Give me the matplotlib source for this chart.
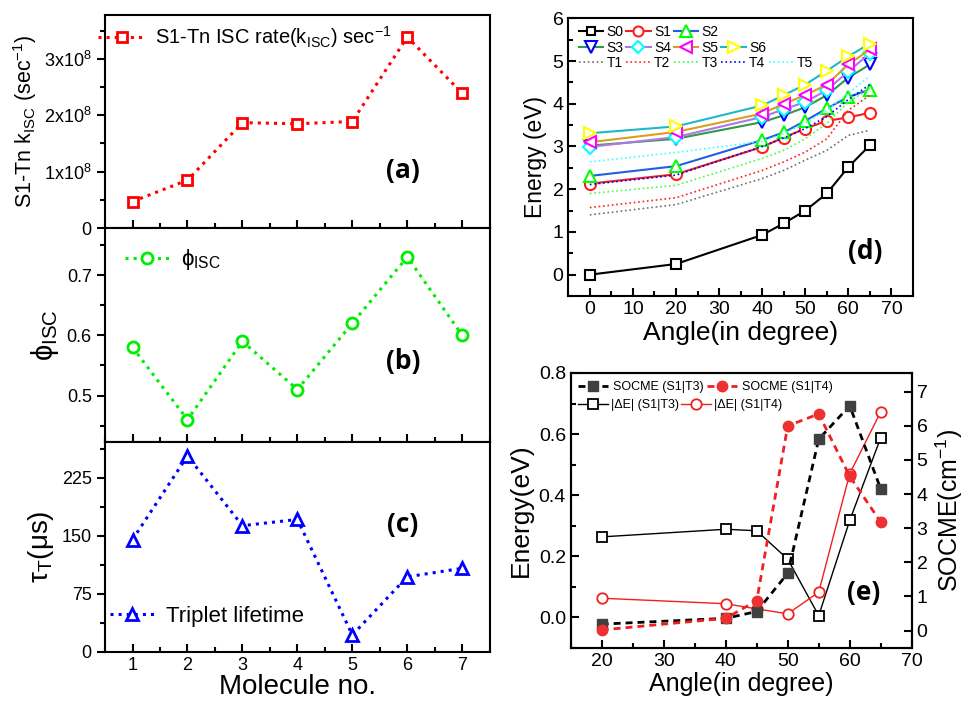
import matplotlib.pyplot as plt
from matplotlib.ticker import MultipleLocator, FuncFormatter
from matplotlib.lines import Line2D

plt.rcParams['font.family'] = ['Liberation Sans', 'DejaVu Sans']
plt.rcParams['mathtext.default'] = 'regular'
plt.rcParams['axes.linewidth'] = 1.5

# left column data (molecules 1-7)
molecule = [1, 2, 3, 4, 5, 6, 7]
k_isc = [0.47e8, 0.85e8, 1.87e8, 1.85e8, 1.89e8, 3.39e8, 2.39e8]
phi_isc = [0.58, 0.46, 0.59, 0.51, 0.62, 0.73, 0.60]
tau_t = [145, 253, 163, 171, 22, 97, 108]

# panel (d): energies vs twist angle
angle_d = [0, 20, 40, 45, 50, 55, 60, 65]
S0 = [0.0, 0.25, 0.93, 1.2, 1.5, 1.9, 2.52, 3.03]
S1 = [2.13, 2.35, 2.99, 3.21, 3.42, 3.6, 3.68, 3.79]
S2 = [2.31, 2.54, 3.15, 3.33, 3.6, 3.89, 4.16, 4.33]
S3 = [3.02, 3.18, 3.57, 3.73, 3.92, 4.2, 4.61, 4.92]
S4 = [2.99, 3.22, 3.69, 3.87, 4.04, 4.32, 4.76, 5.18]
S5 = [3.1, 3.34, 3.77, 4.0, 4.2, 4.45, 4.92, 5.27]
S6 = [3.31, 3.47, 3.96, 4.2, 4.45, 4.77, 5.11, 5.41]
T1 = [1.40, 1.64, 2.25, 2.44, 2.68, 2.91, 3.26, 3.38]
T2 = [1.57, 1.80, 2.44, 2.64, 2.87, 3.18, 3.85, 4.2]
T3 = [1.90, 2.09, 2.72, 2.91, 3.18, 3.54, 4.04, 4.36]
T4 = [2.11, 2.33, 3.0, 3.2, 3.42, 3.7, 4.1, 4.45]
T5 = [2.64, 2.86, 3.12, 3.3, 3.55, 3.85, 4.25, 4.65]

# panel (e)
angle_e = [20, 40, 45, 50, 55, 60, 65]
socme_t3 = [0.19, 0.36, 0.56, 1.68, 5.61, 6.59, 4.15]
socme_t4 = [0.02, 0.36, 0.88, 6.0, 6.35, 4.52, 3.18]
de_t3 = [0.263, 0.288, 0.283, 0.19, 0.005, 0.317, 0.588]
de_t4 = [0.062, 0.044, 0.027, 0.011, 0.082, 0.47, 0.673]

fig = plt.figure(figsize=(9.69, 7.04), dpi=100)

ax_a = fig.add_axes([0.1084, 0.6761, 0.397, 0.3026])
ax_b = fig.add_axes([0.1084, 0.3722, 0.397, 0.3039])
ax_c = fig.add_axes([0.1084, 0.0739, 0.397, 0.2983])

for ax in (ax_a, ax_b, ax_c):
    ax.set_xlim(0.5, 7.5)
    ax.xaxis.set_major_locator(MultipleLocator(1))
    ax.xaxis.set_minor_locator(MultipleLocator(0.5))
    ax.tick_params(axis='x', which='both', direction='in', width=1.5)
    ax.tick_params(axis='y', which='both', direction='out', width=1.5)
    ax.tick_params(which='major', length=6, labelsize=13)
    ax.tick_params(which='minor', length=3.5)
    if ax is not ax_c:
        ax.tick_params(axis='x', labelbottom=False)

# (a)
ax_a.plot(molecule, k_isc, ':', color='#ff0000', lw=2.2, marker='s', ms=7.5,
          mfc='white', mec='#ff0000', mew=2, label=r'S1-Tn ISC rate(k$_{ISC}$) sec$^{-1}$')
ax_a.set_ylim(0, 3.78e8)
ax_a.yaxis.set_major_locator(MultipleLocator(1e8))
ax_a.yaxis.set_minor_locator(MultipleLocator(0.5e8))
ax_a.yaxis.set_major_formatter(FuncFormatter(
    lambda v, p: '0' if v == 0 else r'%dx10$^{8}$' % round(v / 1e8)))
ax_a.set_ylabel(r'S1-Tn k$_{ISC}$ (sec$^{-1}$)', fontsize=15.5)
ax_a.legend(loc='upper left', bbox_to_anchor=(-0.018, 0.955), frameon=False,
            fontsize=14.5, handlelength=2.4, handletextpad=0.4, borderaxespad=0, borderpad=0)
ax_a.text(0.774, 0.27, '(a)', transform=ax_a.transAxes, fontsize=19,
          fontweight='bold', family='Open Sans', ha='center', va='center')

# (b)
ax_b.plot(molecule, phi_isc, ':', color='#00ee00', lw=2.2, marker='o', ms=8,
          mfc='white', mec='#00ee00', mew=2, label=r'ϕ$_{ISC}$')
ax_b.set_ylim(0.423, 0.778)
ax_b.yaxis.set_major_locator(MultipleLocator(0.1))
ax_b.yaxis.set_minor_locator(MultipleLocator(0.05))
ax_b.set_ylabel(r'ϕ$_{ISC}$', fontsize=21)
ax_b.legend(loc='upper left', bbox_to_anchor=(0.052, 0.91), frameon=False,
            fontsize=16, handlelength=2.0, handletextpad=0.5, borderaxespad=0, borderpad=0)
ax_b.text(0.774, 0.375, '(b)', transform=ax_b.transAxes, fontsize=19,
          fontweight='bold', family='Open Sans', ha='center', va='center')

# (c)
ax_c.plot(molecule, tau_t, ':', color='#0000ff', lw=2.2, marker='^', ms=9,
          mfc='white', mec='#0000ff', mew=2, label='Triplet lifetime')
ax_c.set_ylim(0, 271)
ax_c.yaxis.set_major_locator(MultipleLocator(75))
ax_c.yaxis.set_minor_locator(MultipleLocator(37.5))
ax_c.set_ylabel(r'τ$_{T}$(μs)', fontsize=20)
ax_c.set_xlabel('Molecule no.', fontsize=20, labelpad=0)
ax_c.legend(loc='lower left', bbox_to_anchor=(0.013, 0.12), frameon=False,
            fontsize=16, handlelength=2.0, handletextpad=0.5, borderaxespad=0, borderpad=0)
ax_c.text(0.774, 0.605, '(c)', transform=ax_c.transAxes, fontsize=19,
          fontweight='bold', family='Open Sans', ha='center', va='center')

# (d)
ax_d = fig.add_axes([0.5865, 0.5795, 0.3557, 0.3945])
s_series = [S0, S1, S2, S3, S4, S5, S6]
s_names = ['S0', 'S1', 'S2', 'S3', 'S4', 'S5', 'S6']
s_line = ['black', '#ee2020', '#1f5fe0', '#2e9a4a', '#b078e0', '#d8a020', '#20b8c8']
s_mark = ['black', '#ff2020', '#00ff00', '#0000ff', '#00ffff', '#ff00ff', '#ffff00']
s_shape = ['s', 'o', '^', 'v', 'D', '<', '>']
s_size = [7, 8, 9, 9, 7, 9, 9]
t_series = [T1, T2, T3, T4, T5]
t_names = ['T1', 'T2', 'T3', 'T4', 'T5']
t_col = ['#707070', '#ff2020', '#40ff40', '#0000ff', '#40ffff']

s_handles = []
for vals, name, lc, mc, mk, sz in zip(s_series, s_names, s_line, s_mark, s_shape, s_size):
    h, = ax_d.plot(angle_d, vals, '-', color=lc, lw=1.5, marker=mk, ms=sz,
                   mfc='white', mec=mc, mew=1.5, label=name)
    s_handles.append(h)
t_handles = []
for vals, name, c in zip(t_series, t_names, t_col):
    h, = ax_d.plot(angle_d, vals, ':', color=c, lw=1.2, label=name)
    t_handles.append(h)

ax_d.set_xlim(-5, 75)
ax_d.set_ylim(-0.5, 6)
ax_d.xaxis.set_major_locator(MultipleLocator(10))
ax_d.xaxis.set_minor_locator(MultipleLocator(5))
ax_d.yaxis.set_major_locator(MultipleLocator(1))
ax_d.yaxis.set_minor_locator(MultipleLocator(0.5))
ax_d.tick_params(which='both', direction='in', width=1.5, labelsize=14)
ax_d.tick_params(which='major', length=6)
ax_d.tick_params(which='minor', length=3.5)
ax_d.set_xlabel('Angle(in degree)', fontsize=19, labelpad=2)
ax_d.set_ylabel('Energy (eV)', fontsize=16.5)

blank = Line2D([], [], linestyle='none')
handles = [s_handles[0], s_handles[3], t_handles[0],
           s_handles[1], s_handles[4], t_handles[1],
           s_handles[2], s_handles[5], t_handles[2],
           blank, s_handles[6], t_handles[3],
           blank, blank, t_handles[4]]
labels = ['S0', 'S3', 'T1', 'S1', 'S4', 'T2', 'S2', 'S5', 'T3',
          '', 'S6', 'T4', '', '', 'T5']
ax_d.legend(handles, labels, loc='upper left', bbox_to_anchor=(0.03, 0.975),
            ncol=5, frameon=False, fontsize=10, handlelength=1.75, handletextpad=0.25,
            columnspacing=0.2, labelspacing=0.1, borderaxespad=0, borderpad=0,
            markerscale=0.9)
ax_d.text(0.86, 0.16, '(d)', transform=ax_d.transAxes, fontsize=19,
          fontweight='bold', family='Open Sans', ha='center', va='center')

# (e)
ax_e = fig.add_axes([0.589, 0.08, 0.3519, 0.3902])
ax_r = ax_e.twinx()
h3, = ax_e.plot(angle_e, de_t3, '-', color='black', lw=1, marker='s', ms=7,
                mfc='white', mec='black', mew=1.3, label='|ΔE| (S1|T3)')
h4, = ax_e.plot(angle_e, de_t4, '-', color='#ee2020', lw=1, marker='o', ms=7.5,
                mfc='white', mec='#ee2020', mew=1.3, label='|ΔE| (S1|T4)')
h1, = ax_r.plot(angle_e, socme_t3, '--', color='black', lw=2, dashes=(2.5, 1.8),
                marker='s', ms=7, mfc='#404040', mec='#404040', label='SOCME (S1|T3)')
h2, = ax_r.plot(angle_e, socme_t4, '--', color='#ee2020', lw=2, dashes=(2.5, 1.8),
                marker='o', ms=7.5, mfc='#ee3030', mec='#ee3030', label='SOCME (S1|T4)')

ax_e.set_xlim(15, 70)
ax_e.set_ylim(-0.1, 0.8)
ax_r.set_ylim(-0.5, 7.55)
ax_e.xaxis.set_major_locator(MultipleLocator(10))
ax_e.xaxis.set_minor_locator(MultipleLocator(5))
ax_e.yaxis.set_major_locator(MultipleLocator(0.2))
ax_e.yaxis.set_minor_locator(MultipleLocator(0.1))
ax_r.yaxis.set_major_locator(MultipleLocator(1))
for ax in (ax_e, ax_r):
    ax.tick_params(which='both', direction='in', width=1.5, labelsize=14)
    ax.tick_params(which='major', length=6)
    ax.tick_params(which='minor', length=3.5)
ax_e.yaxis.set_major_formatter(FuncFormatter(lambda v, p: '%.1f' % v))
ax_e.set_xlabel('Angle(in degree)', fontsize=18, labelpad=2)
ax_e.set_ylabel('Energy(eV)', fontsize=19)
ax_r.set_ylabel(r'SOCME(cm$^{-1}$)', fontsize=18)

leg1 = ax_r.legend([h1, h2], ['SOCME (S1|T3)', 'SOCME (S1|T4)'], loc='upper left',
                   bbox_to_anchor=(0.02, 0.97), ncol=2, frameon=False, fontsize=9,
                   handlelength=2.4, handletextpad=0.4, columnspacing=0.3,
                   borderaxespad=0, borderpad=0)
ax_r.add_artist(leg1)
ax_r.legend([h3, h4], ['|ΔE| (S1|T3)', '|ΔE| (S1|T4)'], loc='upper left',
            bbox_to_anchor=(0.02, 0.905), ncol=2, frameon=False, fontsize=9,
            handlelength=2.4, handletextpad=0.3, columnspacing=0.1,
            borderaxespad=0, borderpad=0)
ax_r.text(0.86, 0.2, '(e)', transform=ax_e.transAxes, fontsize=19,
          fontweight='bold', family='Open Sans', ha='center', va='center')

fig.savefig('out.png', dpi=100)
